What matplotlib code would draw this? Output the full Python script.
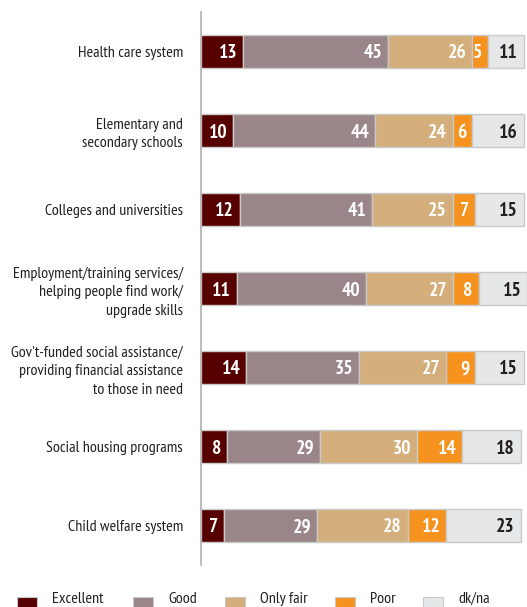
import matplotlib
matplotlib.use("Agg")
import matplotlib.pyplot as plt
from matplotlib.patches import Rectangle
import numpy as np

plt.rcParams['font.family'] = ['PT Sans Narrow', 'Open Sans Condensed', 'DejaVu Sans']

categories = [
    "Health care system",
    "Elementary and\nsecondary schools",
    "Colleges and universities",
    "Employment/training services/\nhelping people find work/\nupgrade skills",
    "Gov't-funded social assistance/\nproviding financial assistance\nto those in need",
    "Social housing programs",
    "Child welfare system",
]
excellent = [13, 10, 12, 11, 14, 8, 7]
good = [45, 44, 41, 40, 35, 29, 29]
only_fair = [26, 24, 25, 27, 27, 30, 28]
poor = [5, 6, 7, 8, 9, 14, 12]
dkna = [11, 16, 15, 15, 15, 18, 23]

series_names = ["Excellent", "Good", "Only fair", "Poor", "dk/na"]
series = [excellent, good, only_fair, poor, dkna]
colors = ["#560000", "#9a8588", "#d4ae7b", "#f6921e", "#e6e7e8"]
text_colors = ["white", "white", "white", "white", "#231f20"]

W, H = 527, 607
fig = plt.figure(figsize=(W / 100, H / 100), dpi=100)
ax = fig.add_axes([201 / W, 1 - 565 / H, (W - 201) / W, 553 / H])

y = np.arange(len(categories))
left = np.zeros(len(categories))
for vals, col, tcol in zip(series, colors, text_colors):
    vals = np.array(vals, dtype=float)
    ax.barh(y, vals, left=left, height=0.42, color=col,
            edgecolor="#c9c9c9", linewidth=1.0)
    for yi, l, v in zip(y, left, vals):
        ax.text(l + v - 1.8, yi, f"{int(v)}", ha="right", va="center_baseline",
                color=tcol, fontsize=14, fontweight="bold")
    left += vals

ax.set_xlim(0, 101)
ax.set_ylim(len(categories) - 0.5, -0.5)
ax.set_yticks(y)
ax.set_yticklabels(categories, fontsize=11.5, color="#231f20", linespacing=1.4)
ax.tick_params(axis="y", length=0, pad=13)
ax.set_xticks([])
for s in ["top", "right", "bottom"]:
    ax.spines[s].set_visible(False)
ax.spines["left"].set_color("#b0b0b0")
ax.spines["left"].set_linewidth(1.2)

# legend along the bottom edge
leg_x = [17, 133, 225, 335, 423]
for name, col, lx in zip(series_names, colors, leg_x):
    fig.add_artist(Rectangle((lx / W, 1 - 617 / H), 20 / W, 20 / H,
                             transform=fig.transFigure, facecolor=col,
                             edgecolor="#c9c9c9", linewidth=0.8))
    fig.text((lx + 35) / W, 1 - 603 / H, name, ha="left", va="baseline",
             fontsize=11.5, color="#231f20")

fig.savefig("out.png", dpi=100)
